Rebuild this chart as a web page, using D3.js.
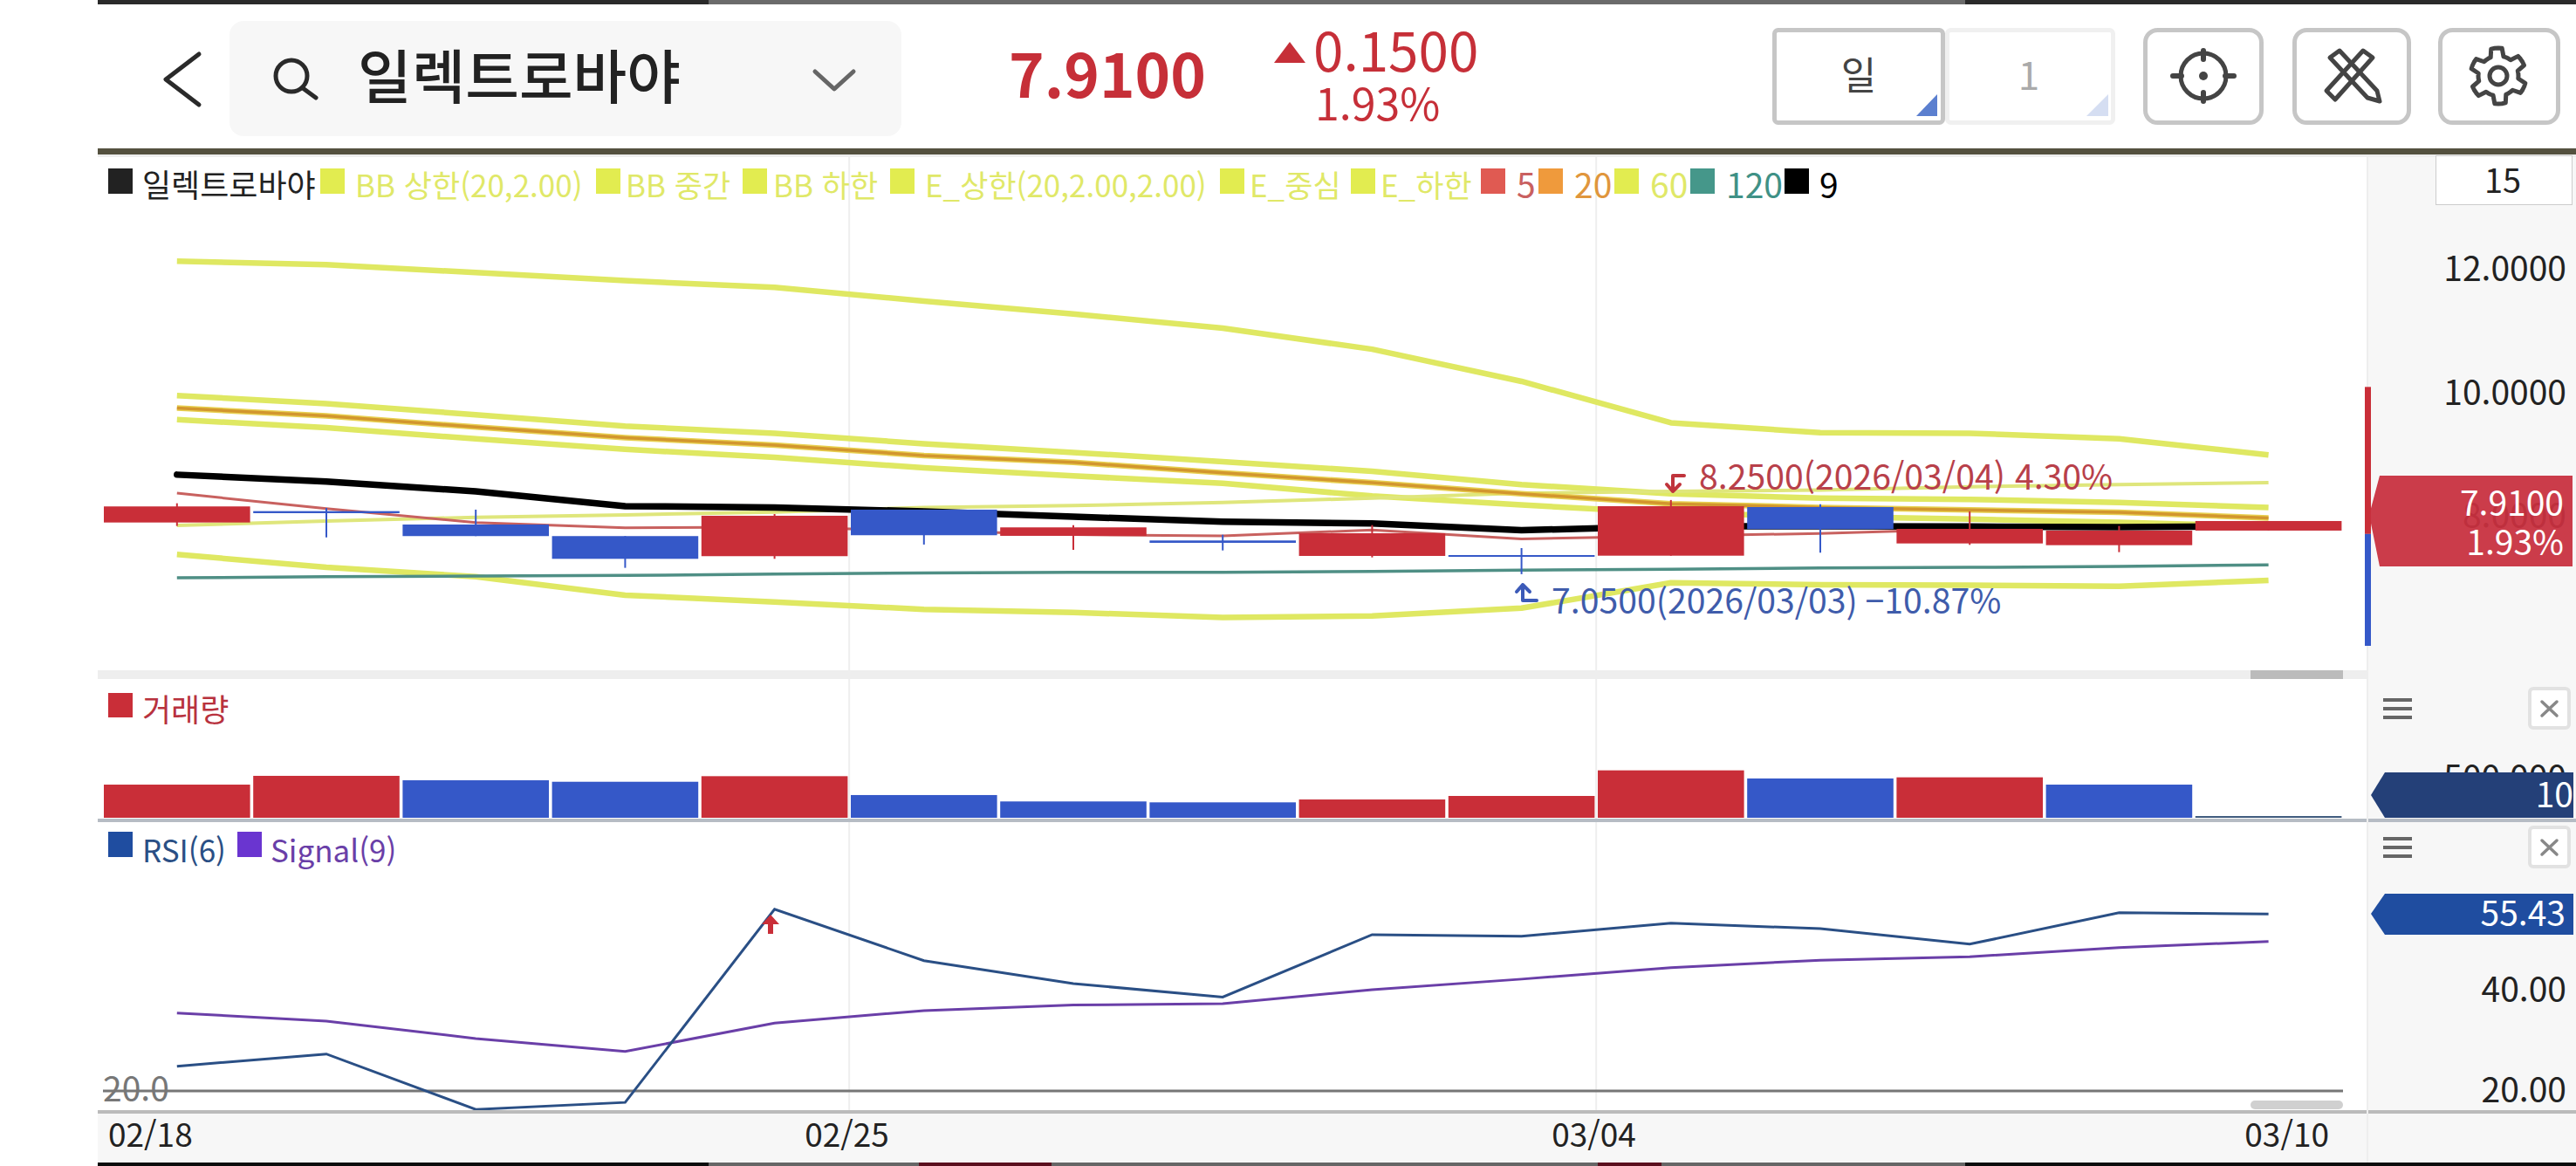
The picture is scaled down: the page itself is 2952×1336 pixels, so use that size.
<!DOCTYPE html>
<html lang="ko"><head><meta charset="utf-8">
<style>html,body{margin:0;padding:0;background:#fff;overflow:hidden}svg{display:block}text{font-family:"Noto Sans CJK KR","Noto Sans",sans-serif}</style>
<script src="https://cdn.jsdelivr.net/npm/d3@7"></script></head><body>
<script>
// ---- data ----
const dates=["02/18","02/19","02/20","02/23","02/24","02/25","02/26","02/27","03/02","03/03","03/04","03/05","03/06","03/09","03/10"];
const open =[7.886,8.07,7.853,7.666,7.341,8.094,7.67,7.595,7.345,7.359,7.349,8.136,7.547,7.519,7.755];
const close=[8.146,8.037,7.666,7.298,7.995,7.68,7.807,7.557,7.712,7.341,8.15,7.779,7.783,7.755,7.91];
const high =[8.197,8.122,8.094,7.666,8.023,8.094,7.844,7.688,7.844,7.472,8.25,8.183,8.065,7.83,7.91];
const low  =[7.83,7.646,7.666,7.152,7.298,7.529,7.444,7.434,7.321,7.05,7.349,7.397,7.524,7.406,7.755];
const bbUpper=[12.115,12.06,11.93,11.80,11.69,11.47,11.26,11.03,10.69,10.17,9.50,9.34,9.33,9.24,8.98];
const envUpper=[9.94,9.81,9.63,9.445,9.33,9.16,9.02,8.87,8.715,8.50,8.35,8.28,8.26,8.21,8.13];
const ma20=[9.74,9.61,9.43,9.26,9.14,8.97,8.86,8.69,8.53,8.35,8.19,8.13,8.09,8.05,7.96];
const envLower=[9.55,9.42,9.24,9.07,8.94,8.77,8.64,8.52,8.315,8.17,8.04,7.985,7.94,7.89,7.825];
const bbLower=[7.37,7.16,7.01,6.71,6.60,6.48,6.43,6.35,6.375,6.50,6.91,6.88,6.87,6.855,6.95];
const ma60=[7.84,7.91,7.97,8.01,8.055,8.13,8.16,8.21,8.28,8.36,8.39,8.41,8.465,8.50,8.53];
const ma9=[8.66,8.55,8.39,8.15,8.13,8.065,7.98,7.90,7.87,7.76,7.825,7.825,7.82,7.81,7.825];
const ma5=[8.36,8.11,7.885,7.80,7.81,7.755,7.69,7.67,7.765,7.62,7.665,7.71,7.78,7.80,7.825];
const ma120=[6.99,7.01,7.02,7.03,7.05,7.07,7.08,7.08,7.095,7.115,7.13,7.15,7.16,7.175,7.20];
const volume=[404000,511000,457000,439000,507000,277000,199000,188000,223000,266000,578000,479000,493000,404000,21000];
const volumeUp=[1,1,0,0,1,0,0,0,1,1,1,0,1,0,1];
const rsi=[24.95,27.4,16.3,17.7,56.4,46.1,41.5,38.8,51.3,51.0,53.6,52.5,49.4,55.7,55.43];
const signal=[35.6,34.0,30.5,27.9,33.6,36.1,37.2,37.5,40.3,42.4,44.7,46.2,46.9,48.7,49.95];
const priceTicks=[12,10,8];
const rsiTicks=[40,20];
const volumeTicks=[500000];
const xTickDates=["02/18","02/25","03/04","03/10"];
const rangeBar=[10.08,7.70,5.89];
const legendNames=["일렉트로바야","BB 상한(20,2.00)","BB 중간","BB 하한","E_상한(20,2.00,2.00)","E_중심","E_하한","5","20","60","120","9"];
const legendColors=["#222222","#e2ec50","#e2ec50","#e2ec50","#e2ec50","#e2ec50","#e2ec50","#e05a52","#ef9a3c","#e2ec50","#45978a","#000000"];
const legendTextColors=["#222222","#e0e868","#e0e868","#e0e868","#e0e868","#e0e868","#e0e868","#c96060","#e0963c","#e0e868","#3f9186","#000000"];

// ---- layout (not data) ----
const RED="#c92e38",BLUE="#3558c8",YEL="#dfe862";
const legendSwatchX=[124,367,683,851,1020,1398,1548,1697,1763,1850,1937,2045];
const legendTextX=[163,407,717,886,1060,1432,1582,1738,1804,1891,1978,2085];
const legendSizes=[36,35,35,35,35,35,35,39,39,39,39,39];

const svg=d3.select("body").append("svg").attr("width",2952).attr("height",1336);
const rect=(g,x,y,w,h,f)=>g.append("rect").attr("x",x).attr("y",y).attr("width",w).attr("height",h).attr("fill",f);
const txt=(g,x,y,s,size,col,anchor="start",weight=400)=>g.append("text").attr("x",x).attr("y",y).attr("dy","0.36em").attr("font-size",size).attr("fill",col).attr("text-anchor",anchor).attr("font-weight",weight).text(s);
const sym=(g,d,col,w,fill="none")=>g.append("path").attr("d",d).attr("stroke",col).attr("stroke-width",w).attr("fill",fill).attr("stroke-linecap","round").attr("stroke-linejoin","round");

// page frame
rect(svg,112,0,2840,5,"#6b6b6b");rect(svg,112,0,700,5,"#2a2a2a");rect(svg,2252,0,700,5,"#2a2a2a");
rect(svg,112,170,2840,7,"#54513f");rect(svg,112,177,2840,3,"#eeeeee");

// header
const head=svg.append("g");
sym(head,"M228,62 L190,91 L228,120","#2a2a2a",5);
head.append("rect").attr("x",263).attr("y",24).attr("width",770).attr("height",132).attr("rx",16).attr("fill","#f7f7f7");
head.append("circle").attr("cx",334).attr("cy",87).attr("r",18).attr("fill","none").attr("stroke","#2a2a2a").attr("stroke-width",5);
sym(head,"M347,101 L362,112","#2a2a2a",5);
txt(head,410,89,"일렉트로바야",67,"#222","start",500);
sym(head,"M934,82 L956,102 L978,82","#666",5);
txt(head,1156,87,"7.9100",69,"#c62f38","start",700);
head.append("path").attr("d","M1478,48 L1496,72 L1460,72 Z").attr("fill","#c62f38");
txt(head,1505,60,"0.1500",62,"#c62f38","start",400);
txt(head,1507,120,"1.93%",50,"#c62f38","start",400);
const btn=(x,w,stroke,rx=8)=>head.append("rect").attr("x",x+2.5).attr("y",34.5).attr("width",w-5).attr("height",106).attr("rx",rx).attr("fill","#fff").attr("stroke",stroke).attr("stroke-width",5);
btn(2229,195,"#f0f0f0",4);btn(2031,198,"#c6c6c6",4);
txt(head,2130,87,"일",44,"#444","middle");txt(head,2325,87,"1",44,"#aaa","middle");
head.append("path").attr("d","M2220,108 L2220,133 L2196,133 Z").attr("fill","#5b7fcf");
head.append("path").attr("d","M2416,108 L2416,133 L2391,133 Z").attr("fill","#d5def2");
[2456,2627,2794].forEach(x=>btn(x,x===2456?138:(x===2627?136:140),"#c6c6c6",14));
// crosshair icon
head.append("circle").attr("cx",2525).attr("cy",87).attr("r",26).attr("fill","none").attr("stroke","#444").attr("stroke-width",5);
head.append("circle").attr("cx",2525).attr("cy",87).attr("r",5).attr("fill","#444");
sym(head,"M2525,58 V68 M2525,106 V116 M2490,87 H2500 M2550,87 H2560","#444",6);
// drawing-tool icon
sym(head,"M2670,66 L2681,58 L2724,104 L2727,116 L2713,112 Z","#444",5);
sym(head,"M2719,66 L2708,58 L2666,104 L2676,114 L2719,66 Z","#444",5);
// gear icon
const gearPts=d3.range(48).map(i=>{const a=i/48*2*Math.PI,t=((i+2)%8)<4;return [a,t?32:23];});
head.append("path").attr("transform","translate(2863,87)").attr("d",d3.lineRadial().curve(d3.curveLinearClosed)(gearPts)).attr("fill","none").attr("stroke","#444").attr("stroke-width",5).attr("stroke-linejoin","round");
head.append("circle").attr("cx",2863).attr("cy",87).attr("r",10).attr("fill","none").attr("stroke","#444").attr("stroke-width",5);

// right axis column + bottom date band
rect(svg,2712,180,240,1152,"#f7f7f7");
rect(svg,2712,180,2,1152,"#eeeeee");
rect(svg,112,1276,2600,56,"#f7f7f7");

// scales
const x=d3.scaleBand().domain(dates).range([117.2,2685.2]).paddingInner(0.021).paddingOuter(0.0105);
const cx=d=>x(d)+x.bandwidth()/2;
const y=d3.scaleLinear().domain([7,12]).range([661.4,307.4]);
const yVol=d3.scaleLinear().domain([0,500000]).range([937,890]);
const yRsi=d3.scaleLinear().domain([20,40]).range([1250,1135.6]);
const line=(arr,sc)=>d3.line().x((d,i)=>cx(dates[i])).y(d=>sc(d))(arr);

// gridlines
[dates[5],dates[10]].forEach(d=>{rect(svg,x(d)-x.step()*0.0105-1,180,2,1096,"#eeeeee");});

// price panel
const main=svg.append("g");
const drawLine=(arr,col,w,cap="butt")=>main.append("path").attr("d",line(arr,y)).attr("fill","none").attr("stroke",col).attr("stroke-width",w).attr("stroke-linecap",cap).attr("stroke-linejoin","round");
drawLine(bbUpper,YEL,6.5);drawLine(envUpper,YEL,6.5);drawLine(envLower,YEL,6.5);drawLine(bbLower,YEL,6.5);
drawLine(ma60,"#dfe67c",4);drawLine(ma20,"#e8d050",6.5);drawLine(ma20,"#d2962e",3.5);drawLine(ma5,"#c8615f",3);drawLine(ma120,"#4f8f85",3.5);drawLine(ma9,"#000",7.5,"round");
dates.forEach((d,i)=>{
  const up=close[i]>=open[i],col=up?RED:BLUE;
  main.append("line").attr("x1",cx(d)).attr("x2",cx(d)).attr("y1",y(high[i])).attr("y2",y(low[i])).attr("stroke",col).attr("stroke-width",2);
  const t=Math.min(y(open[i]),y(close[i])),h=Math.abs(y(open[i])-y(close[i]));
  rect(main,x(d),t,x.bandwidth(),Math.max(h,2),col);
});
// price annotations
sym(main,"M1930,545 H1917 V563 M1910,555 L1917,563 L1925,555","#c0343c",4);
txt(main,1947,547,"8.2500(2026/03/04) 4.30%",39.2,"#b8404a");
sym(main,"M1761,688 H1745 V670 M1738,678 L1745,670 L1753,678","#3c5ab8",4);
txt(main,1778,689,"7.0500(2026/03/03) −10.87%",39.2,"#3f5cab");

// legend
legendNames.forEach((n,i)=>{rect(svg,legendSwatchX[i],193,28,29,legendColors[i]);txt(svg,legendTextX[i],213,n,legendSizes[i],legendTextColors[i]);});
// price axis
const ax=svg.append("g").attr("transform","translate(2941,0)").call(d3.axisLeft(y).tickValues(priceTicks).tickSize(0).tickFormat(d3.format(".4f")));
ax.select(".domain").remove();
ax.selectAll("text").attr("font-size",39).attr("fill","#222").attr("x",0).attr("dy","0.36em").attr("font-family",null);
// period box
svg.append("rect").attr("x",2791.5).attr("y",178.5).attr("width",156).attr("height",56).attr("fill","#fff").attr("stroke","#ccc");
txt(svg,2868,207,"15",38,"#222","middle");
// range bar
rect(svg,2710,y(rangeBar[0]),7,y(rangeBar[1])-y(rangeBar[0]),RED);
rect(svg,2710,y(rangeBar[1]),7,y(rangeBar[2])-y(rangeBar[1]),BLUE);
// price pill
svg.append("path").attr("d","M2715,590 L2727,545 H2948 V649 H2727 Z").attr("fill","#c8303f").attr("fill-opacity",0.94);
txt(svg,2938,577,"7.9100",39,"#fff","end");txt(svg,2938,622,"1.93%",39,"#fff","end");
// scrollbar
rect(svg,112,768,2600,10,"#eeeeee");rect(svg,2579,768,106,10,"#bbbbbb");

// volume panel
const vol=svg.append("g");
rect(vol,124,794,28,28,RED);txt(vol,163,814,"거래량",36,"#b8323e");
const volClip=svg.append("clipPath").attr("id","volc");volClip.append("rect").attr("x",2712).attr("y",778).attr("width",240).attr("height",160);
const axv=svg.append("g").attr("clip-path","url(#volc)").append("g").attr("transform","translate(2941,0)").call(d3.axisLeft(yVol).tickValues(volumeTicks).tickSize(0).tickFormat(d3.format(",")));
axv.select(".domain").remove();
axv.selectAll("text").attr("font-size",39).attr("fill","#222").attr("x",0).attr("dy","0.36em").attr("font-family",null);
dates.forEach((d,i)=>rect(vol,x(d),yVol(volume[i]),x.bandwidth(),yVol(0)-yVol(volume[i]),i===14?"#3e5a7c":(volumeUp[i]?RED:BLUE)));
rect(vol,112,938,2600,4,"#b6bcc4");rect(vol,2714,938,238,4,"#b6bcc4");
svg.append("path").attr("d","M2717,911 L2733,885 H2949 V937 H2733 Z").attr("fill","#244078");
txt(svg,2949,911,"10",39,"#fff","end");
const menu=(yy)=>{[0,10,20].forEach(k=>rect(svg,2731,yy+k-2,33,4,"#666"));};
const closeBtn=(yy)=>{svg.append("rect").attr("x",2899).attr("y",yy).attr("width",45).attr("height",45).attr("rx",4).attr("fill","#fff").attr("stroke","#e2e2e2").attr("stroke-width",4);
 sym(svg,`M2913,${yy+15} L2930,${yy+31} M2930,${yy+15} L2913,${yy+31}`,"#888",3.5);};
menu(802);closeBtn(789);menu(961);closeBtn(948);

// RSI panel
const rp=svg.append("g");
rect(rp,124,953,28,29,"#1f4da0");txt(rp,163,975,"RSI(6)",35,"#2a4f85");
rect(rp,272,953,28,29,"#6a35d0");txt(rp,310,975,"Signal(9)",35,"#6a3fa8");
rect(rp,118,yRsi(20)-1.5,2567,3,"#777");
txt(rp,118,1248,"20.0",39,"#777");
rp.append("path").attr("d",line(signal,yRsi)).attr("fill","none").attr("stroke","#6a3fa8").attr("stroke-width",3);
rp.append("path").attr("d",line(rsi,yRsi)).attr("fill","none").attr("stroke","#2a4f85").attr("stroke-width",3);
rp.append("path").attr("d","M883,1048 L893,1059 H886 V1070 H880 V1059 H873 Z").attr("fill",RED);
rp.append("rect").attr("x",2579).attr("y",1261).attr("width",106).attr("height",10).attr("rx",5).attr("fill","#d0d0d0");
const axr=svg.append("g").attr("transform","translate(2941,-2)").call(d3.axisLeft(yRsi).tickValues(rsiTicks).tickSize(0).tickFormat(d3.format(".2f")));
axr.select(".domain").remove();
axr.selectAll("text").attr("font-size",39).attr("fill","#222").attr("x",0).attr("dy","0.36em").attr("font-family",null);
svg.append("path").attr("d","M2717,1047 L2733,1024 H2949 V1071 H2733 Z").attr("fill","#1f4da0");
txt(svg,2940,1047,rsi[14].toFixed(2),39,"#fff","end");
rect(svg,112,1272,2600,4,"#bbbbbb");rect(svg,2714,1272,238,4,"#bbbbbb");

// date axis
const xTick=d3.scalePoint().domain(dates).range([x(dates[0])-5,x(dates[14])-5]);
const axx=svg.append("g").attr("transform","translate(0,1282)").call(d3.axisBottom(xTick).tickValues(xTickDates).tickSize(0));
axx.select(".domain").remove();
axx.selectAll("text").attr("font-size",37).attr("fill","#222").attr("y",19).attr("dy","0.36em").attr("font-family",null);
axx.selectAll(".tick").filter(d=>d===xTickDates[0]).attr("transform","translate(124,0)").select("text").attr("text-anchor","start");
axx.selectAll(".tick").filter(d=>d===xTickDates[3]).attr("transform","translate(2669,0)").select("text").attr("text-anchor","end");

// bottom strip
rect(svg,112,1332,2840,4,"#666");rect(svg,112,1332,700,4,"#0c0c0c");rect(svg,2252,1332,700,4,"#0c0c0c");
rect(svg,1053,1332,152,4,"#5b0f1e");rect(svg,1831,1332,73,4,"#5b0f1e");
</script></body></html>
